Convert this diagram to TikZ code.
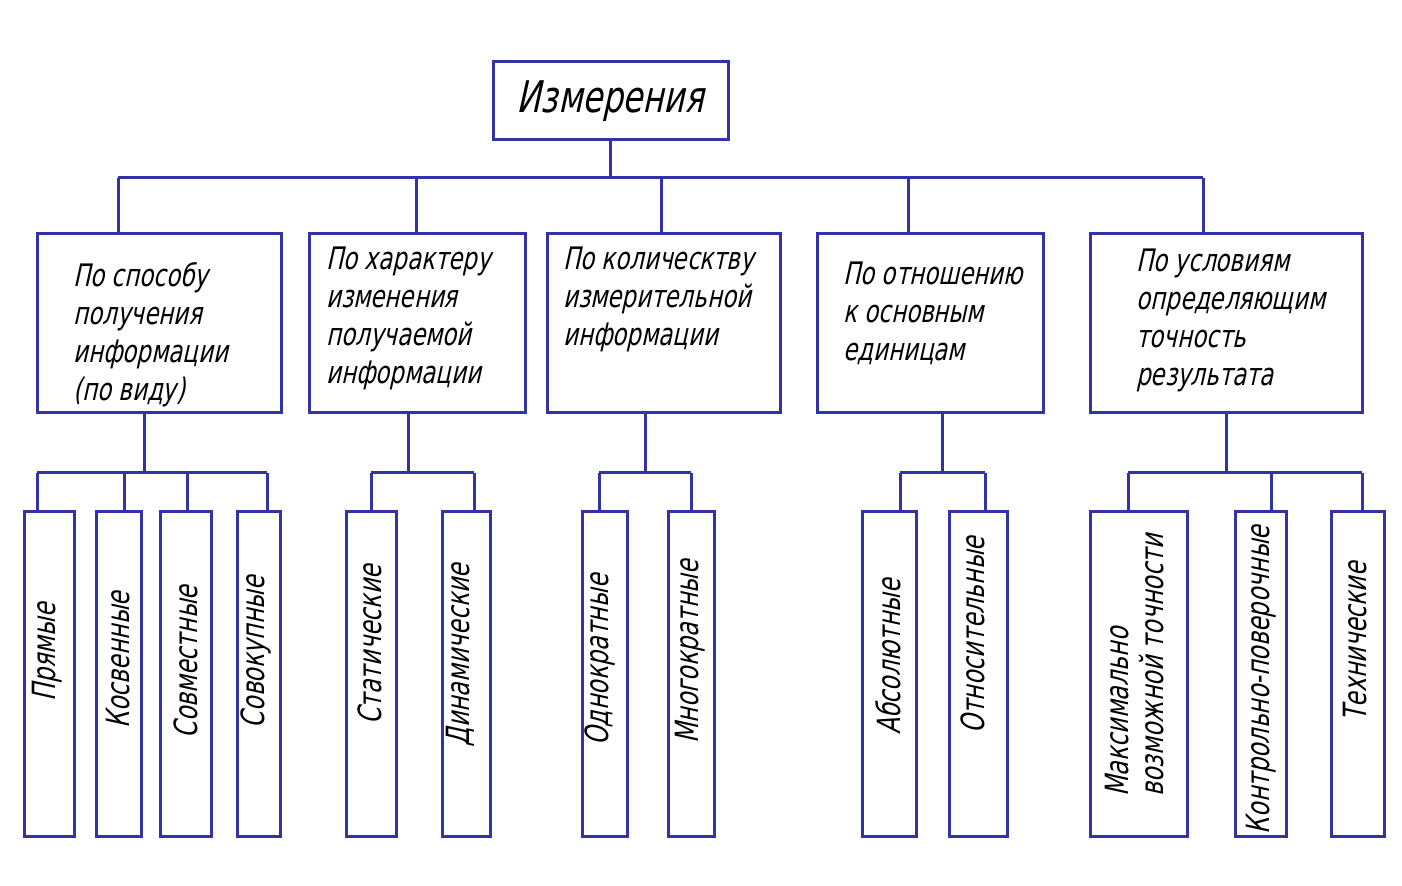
\documentclass[tikz,border=0pt]{standalone}
\usepackage{fontspec}
\newfontfamily\gostfont{DejaVu Sans}[FakeStretch=0.74,FakeSlant=0.22]
\usetikzlibrary{positioning}
\definecolor{schemeblue}{RGB}{50,52,165}

\tikzset{
  box/.style={draw=schemeblue, line width=1.5pt, inner sep=0pt, fill=white},
  link/.style={draw=schemeblue, line width=1.5pt},
  caption/.style={font=\gostfont\fontsize{15.5}{19}\selectfont, inner sep=0pt, align=left, anchor=north west},
  leaftext/.style={font=\gostfont\fontsize{16}{17.5}\selectfont, inner sep=0pt, rotate=90, align=left}
}

\begin{document}
\begin{tikzpicture}[x=0.5pt,y=-0.5pt]
    \useasboundingbox (0,0) rectangle (1402,886);
    % root
    \node[box, minimum width=117.5pt, minimum height=39pt,
          font=\gostfont\fontsize{21.8}{26}\selectfont] (top) at (610.5,101) {Измерения};
    % second level
    \foreach \n/\cx/\w in {c1/159/122, c2/417/108, c3/663.5/116.5, c4/930/113, c5/1226/136}
        \node[box, minimum width=\w pt, minimum height=89.5pt] (\n) at (\cx,323.5) {};
    \node[caption] (t1) at (73,262) {По способу\\получения\\информации\\(по виду)};
    \node[caption] (t2) at (326,247) {По характеру\\изменения\\получаемой\\информации};
    \node[caption] (t3) at (563,247) {По колическтву\\измерительной\\информации};
    \node[caption] (t4) at (843,262) {По отношению\\к основным\\единицам};
    \node[caption] (t5) at (1136,249) {По условиям\\определяющим\\точность\\результата};
    % root bus
    \coordinate (busL) at (118,178);
    \coordinate (busR) at (1203,178);
    \draw[link] (top.south) -- (top.south |- busL);
    \draw[link] (busL) -- (busR);
    \foreach \n/\x in {c1/118, c2/416, c3/661, c4/908, c5/1203} {
        \coordinate (d\n) at (\x,178);
        \draw[link] (d\n) -- (d\n |- \n.north);
    }
    % leaves
    \foreach \n/\cx/\w/\dx in {l11/49/25/37, l12/118.5/22.5/124, l13/185.5/25.5/187, l14/258.5/21.5/267,
            l21/371/25/371, l22/466/24/474, l31/604.5/22.5/599, l32/691/23/691,
            l41/889/27/900, l42/978/29/985, l51/1138.5/48.5/1128, l52/1260.5/25.5/1271, l53/1357.5/26.5/1362} {
        \node[box, minimum width=\w pt, minimum height=162pt] (\n) at (\cx,674) {};
        \coordinate (k\n) at (\dx,473);
        \draw[link] (k\n) -- (k\n |- \n.north);
    }
    % stems and buses to leaves
    \foreach \n/\x in {c1/144, c2/408, c3/645, c4/942, c5/1226} {
        \coordinate (s\n) at (\x,473);
        \draw[link] (s\n |- \n.south) -- (s\n);
    }
    \draw[link] (kl11) -- (kl14);
    \draw[link] (kl21) -- (kl22);
    \draw[link] (kl31) -- (kl32);
    \draw[link] (kl41) -- (kl42);
    \draw[link] (kl51) -- (kl53);
    % leaf labels
    \node[leaftext] (n11) at (47,652) {Прямые};
    \node[leaftext] (n12) at (118,660) {Косвенные};
    \node[leaftext] (n13) at (186,662) {Совместные};
    \node[leaftext] (n14) at (256,652) {Совокупные};
    \node[leaftext] (n21) at (370,645) {Статические};
    \node[leaftext] (n22) at (460,655) {Динамические};
    \node[leaftext] (n31) at (600,660) {Однократные};
    \node[leaftext] (n32) at (690,652) {Многократные};
    \node[leaftext] (n41) at (888,657) {Абсолютные};
    \node[leaftext] (n42) at (973,635) {Относительные};
    \node[leaftext, anchor=west] (n51) at (1135,797) {Максимально\\возможной точности};
    \node[leaftext] (n52) at (1261,680) {Контрольно-поверочные};
    \node[leaftext] (n53) at (1355,642) {Технические};
\end{tikzpicture}
\end{document}
